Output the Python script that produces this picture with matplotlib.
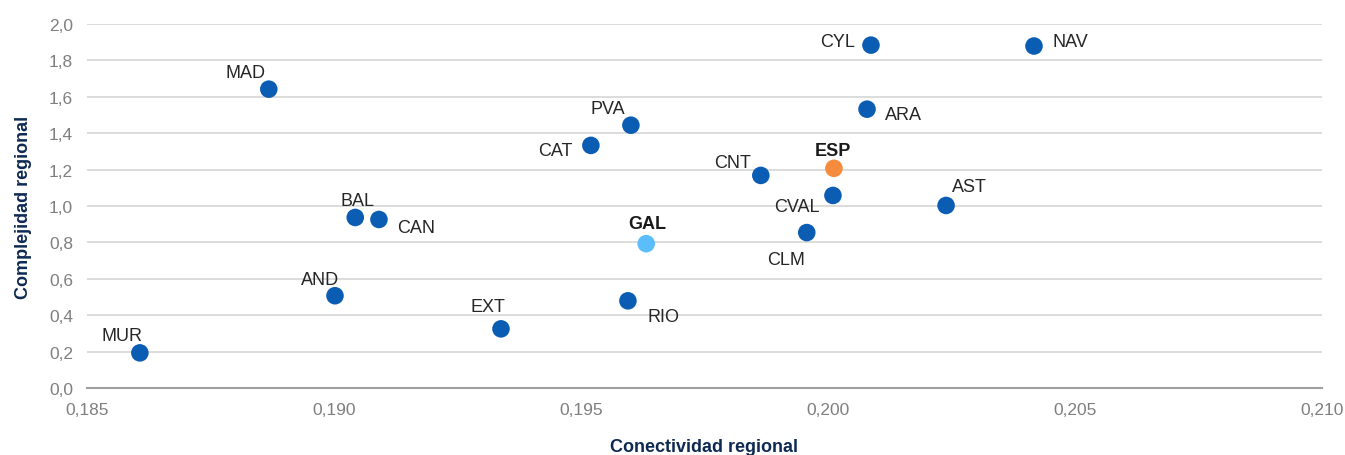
import matplotlib
matplotlib.use("Agg")
import matplotlib.pyplot as plt
from matplotlib.ticker import FixedLocator, FuncFormatter

plt.rcParams['font.family'] = ['Liberation Sans', 'DejaVu Sans']

# Regional connectivity (x) and complexity (y)
regions = ["MUR", "MAD", "BAL", "CAN", "AND", "EXT", "CAT", "PVA", "RIO",
           "GAL", "CNT", "CLM", "CVAL", "ESP", "ARA", "CYL", "AST", "NAV"]
conectividad = [0.18607, 0.18868, 0.19043, 0.19091, 0.19002, 0.19338, 0.19520,
                0.19601, 0.19595, 0.19632, 0.19864, 0.19957, 0.20010, 0.20012,
                0.20079, 0.20087, 0.20239, 0.20417]
complejidad = [0.193, 1.642, 0.937, 0.926, 0.507, 0.325, 1.333, 1.444, 0.479,
               0.793, 1.168, 0.854, 1.058, 1.207, 1.532, 1.884, 1.003, 1.879]

x_ticks = [0.185, 0.190, 0.195, 0.200, 0.205, 0.210]
y_ticks = [0.0, 0.2, 0.4, 0.6, 0.8, 1.0, 1.2, 1.4, 1.6, 1.8, 2.0]

BLUE = "#0B5DB4"
HIGHLIGHT = {"ESP": "#F58B3C", "GAL": "#5BBEFB"}
BOLD = {"ESP", "GAL"}

# Label offsets in pixels (dx right, dy up)
label_offsets = {
    "MUR": (-18, 17), "MAD": (-23, 17), "BAL": (2, 17), "CAN": (37, -8),
    "AND": (-15, 16), "EXT": (-13, 22), "CAT": (-36, -5), "PVA": (-23, 17),
    "RIO": (36, -16), "GAL": (1, 20), "CNT": (-28, 13), "CLM": (-21, -27),
    "CVAL": (-36, -11), "ESP": (-1, 18), "ARA": (36, -5), "CYL": (-33, 4),
    "AST": (23, 19), "NAV": (36, 5),
}

fig = plt.figure(figsize=(13.45, 4.56), dpi=100)
ax = fig.add_axes([87 / 1345, 67 / 456, (1322 - 87) / 1345, (389 - 25) / 456])

colors = [HIGHLIGHT.get(r, BLUE) for r in regions]
ax.scatter(conectividad, complejidad, s=160, c=colors, zorder=3, linewidths=0)

for r, x, y in zip(regions, conectividad, complejidad):
    dx, dy = label_offsets[r]
    ax.annotate(r, (x, y), xytext=(dx, dy), textcoords="offset pixels",
                ha="center", va="center", fontsize=13,
                color="#262626" if r not in BOLD else "#1a1a1a",
                fontweight="bold" if r in BOLD else "normal", zorder=4)

ax.set_xlim(0.185, 0.210)
ax.set_ylim(0.0, 2.0)
ax.xaxis.set_major_locator(FixedLocator(x_ticks))
ax.yaxis.set_major_locator(FixedLocator(y_ticks))
ax.xaxis.set_major_formatter(FuncFormatter(lambda v, p: f"{v:.3f}".replace(".", ",")))
ax.yaxis.set_major_formatter(FuncFormatter(lambda v, p: f"{v:.1f}".replace(".", ",")))

ax.grid(axis="y", color="#D9D9D9", linewidth=1.3, zorder=0)
ax.set_axisbelow(True)
for side in ("top", "right", "left"):
    ax.spines[side].set_visible(False)
ax.spines["bottom"].set_color("#A0A0A0")
ax.spines["bottom"].set_linewidth(1.5)
ax.tick_params(axis="both", length=0, labelsize=12.5, labelcolor="#7F7F7F")
ax.tick_params(axis="x", pad=10)
ax.tick_params(axis="y", pad=10)

ax.set_xlabel("Conectividad regional", fontsize=13, fontweight="bold",
              color="#0F2A52", labelpad=15)
ax.set_ylabel("Complejidad regional", fontsize=13, fontweight="bold",
              color="#0F2A52", labelpad=12)

fig.savefig("out.png", dpi=100)
